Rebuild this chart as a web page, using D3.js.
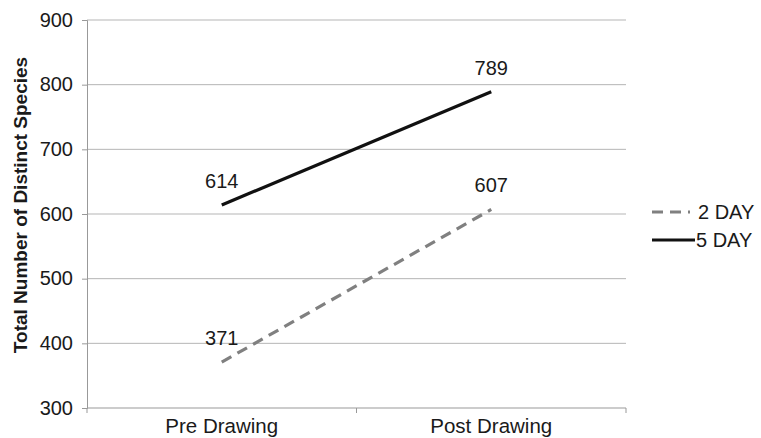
<!DOCTYPE html>
<html>
<head>
<meta charset="utf-8">
<script src="https://cdn.jsdelivr.net/npm/d3@7"></script>
<style>
  body { margin: 0; background: #fff; }
  svg { display: block; font-family: "Liberation Sans", Arial, sans-serif; }
</style>
</head>
<body>
<svg id="chart" width="761" height="438"></svg>
<script>
const categories = ["Pre Drawing", "Post Drawing"];
const seriesNames = ["2 DAY", "5 DAY"];
const twoDay = [371, 607];
const fiveDay = [614, 789];
const yTicks = [300, 400, 500, 600, 700, 800, 900];

const svg = d3.select("#chart");
const margin = { left: 87, right: 135, top: 20, bottom: 30 };
const W = 761, H = 438;

const x = d3.scaleBand().domain(categories).range([margin.left, W - margin.right]);
const y = d3.scaleLinear().domain([300, 900]).range([H - margin.bottom, margin.top]);

// horizontal gridlines
svg.append("g").selectAll("line").data(yTicks.filter(d => d > 300)).join("line")
  .attr("x1", margin.left).attr("x2", W - margin.right)
  .attr("y1", d => y(d)).attr("y2", d => y(d))
  .attr("stroke", "#b5b5b5").attr("stroke-width", 1);

// y axis
const yAxis = svg.append("g").attr("transform", `translate(${margin.left},0)`)
  .call(d3.axisLeft(y).tickValues(yTicks).tickSize(5).tickPadding(9));
yAxis.select(".domain").attr("stroke", "#999");
yAxis.selectAll(".tick line").attr("stroke", "#999");
yAxis.selectAll("text").attr("font-size", 20).attr("fill", "#1a1a1a")
  .attr("dy", "0.3em")
  .attr("font-family", "Liberation Sans, Arial, sans-serif");

// x axis with category-boundary ticks
const xg = svg.append("g").attr("transform", `translate(0,${y(300)})`);
xg.append("line").attr("x1", margin.left).attr("x2", W - margin.right)
  .attr("y1", 0).attr("y2", 0).attr("stroke", "#999");
const bounds = [margin.left, ...categories.map(c => x(c) + x.bandwidth())];
xg.selectAll("line.tk").data(bounds).join("line").attr("class", "tk")
  .attr("x1", d => d).attr("x2", d => d).attr("y1", 0).attr("y2", 5)
  .attr("stroke", "#999");
xg.selectAll("text").data(categories).join("text")
  .attr("x", d => x(d) + x.bandwidth() / 2).attr("y", 25)
  .attr("text-anchor", "middle").attr("font-size", 20.5).attr("fill", "#1a1a1a")
  .text(d => d);

// axis title
svg.append("text")
  .attr("transform", `translate(27,205) rotate(-90)`)
  .attr("text-anchor", "middle").attr("font-weight", "bold").attr("font-size", 19)
  .attr("fill", "#1a1a1a")
  .text("Total Number of Distinct Species");

const cx = c => x(c) + x.bandwidth() / 2;
const line = d3.line().x((d, i) => cx(categories[i])).y(d => y(d));

const series = [
  { name: seriesNames[0], values: twoDay, color: "#808080", dash: "11,7" },
  { name: seriesNames[1], values: fiveDay, color: "#111", dash: null }
];

series.forEach(s => {
  svg.append("path").datum(s.values).attr("d", line)
    .attr("fill", "none").attr("stroke", s.color).attr("stroke-width", 3.2)
    .attr("stroke-dasharray", s.dash);
  svg.append("g").selectAll("text").data(s.values).join("text")
    .attr("x", (d, i) => cx(categories[i]))
    .attr("y", d => y(d) - 17)
    .attr("text-anchor", "middle").attr("font-size", 20).attr("fill", "#1a1a1a")
    .text(d => d);
});

// legend
const lg = svg.append("g");
series.forEach((s, i) => {
  const ly = 212 + i * 28;
  lg.append("line").attr("x1", 652).attr("x2", i === 0 ? 690 : 695)
    .attr("y1", ly).attr("y2", ly)
    .attr("stroke", s.color).attr("stroke-width", 3.2)
    .attr("stroke-dasharray", s.dash);
  lg.append("text").attr("x", i === 0 ? 698 : 696).attr("y", ly).attr("dy", "0.36em")
    .attr("font-size", 20).attr("fill", "#1a1a1a").text(s.name);
});
</script>
</body>
</html>
